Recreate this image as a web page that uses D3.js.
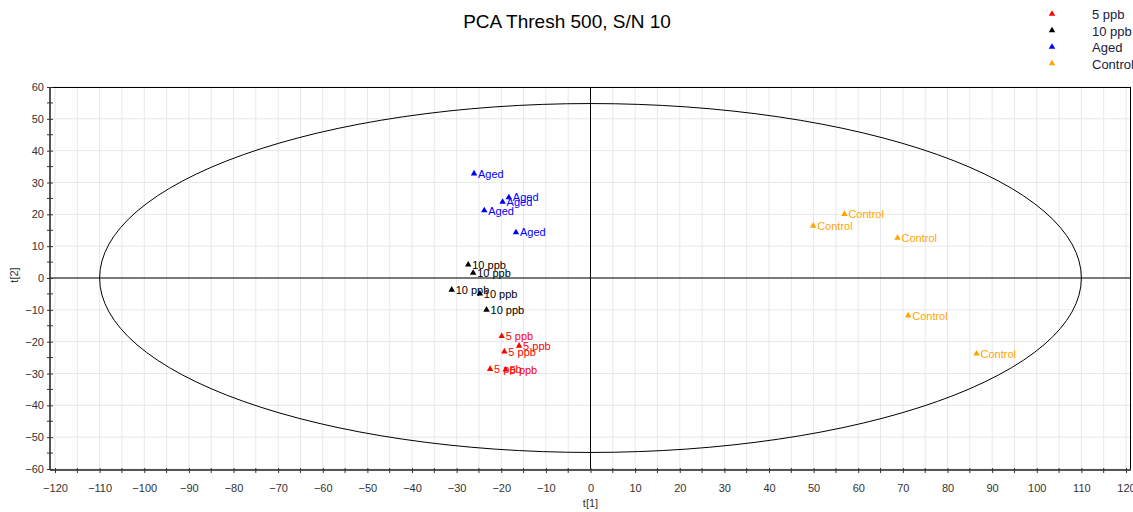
<!DOCTYPE html>
<html>
<head>
<meta charset="utf-8">
<script src="https://cdn.jsdelivr.net/npm/d3@7"></script>
<style>
  html, body { margin: 0; padding: 0; background: #fff; }
  svg { display: block; font-family: "Liberation Sans", Arial, sans-serif; }
</style>
</head>
<body>
<svg id="chart" width="1133" height="512"></svg>
<script>
// Score plot groups
const groups = ["5 ppb", "10 ppb", "Aged", "Control"];
const groupColors = ["#ff0000", "#000000", "#0000ff", "#ffa500"];

// t[1] / t[2] scores per group
const t1_5ppb   = [-19.9, -16.0, -19.3, -22.5, -19.0];
const t2_5ppb   = [-18.3, -21.3, -23.1, -28.6, -28.8];
const t1_10ppb  = [-27.4, -26.3, -31.1, -24.8, -23.3];
const t2_10ppb  = [4.2, 1.6, -3.7, -4.9, -10.0];
const t1_aged   = [-26.1, -18.3, -19.7, -23.8, -16.7];
const t2_aged   = [32.8, 25.3, 23.9, 21.2, 14.3];
const t1_control = [56.9, 49.9, 68.8, 71.2, 86.5];
const t2_control = [20.1, 16.4, 12.6, -11.8, -23.8];

// Hotelling T2 ellipse semi-axes
const ellipseT1 = 110;
const ellipseT2 = 54.8;

const xTicks = d3.range(-120, 121, 10);
const yTicks = d3.range(-60, 61, 10);

const seriesT1 = [t1_5ppb, t1_10ppb, t1_aged, t1_control];
const seriesT2 = [t2_5ppb, t2_10ppb, t2_aged, t2_control];

const svg = d3.select("#chart");
const frame = { left: 50, right: 1131, top: 87, bottom: 470 };

const x = d3.scaleLinear().domain([-120, 120]).range([55, 1126]);
const y = d3.scaleLinear().domain([-60, 60]).range([469, 87]);

// grid
const grid = svg.append("g");
grid.selectAll("line.vg").data(d3.range(-120, 121, 5)).join("line")
  .attr("x1", d => x(d)).attr("x2", d => x(d))
  .attr("y1", frame.top).attr("y2", frame.bottom)
  .attr("stroke", "#e8e8e8").attr("stroke-width", 1);
grid.selectAll("line.hg").data(yTicks).join("line")
  .attr("x1", frame.left).attr("x2", frame.right)
  .attr("y1", d => y(d)).attr("y2", d => y(d))
  .attr("stroke", "#e8e8e8").attr("stroke-width", 1);

// frame top / right
svg.append("line").attr("x1", frame.left).attr("x2", frame.right)
  .attr("y1", frame.top + 0.5).attr("y2", frame.top + 0.5).attr("stroke", "#000");
svg.append("line").attr("x1", frame.right - 0.5).attr("x2", frame.right - 0.5)
  .attr("y1", frame.top).attr("y2", frame.bottom).attr("stroke", "#000");

// zero lines
svg.append("line").attr("x1", x(0)).attr("x2", x(0))
  .attr("y1", frame.top).attr("y2", frame.bottom).attr("stroke", "#000");
svg.append("line").attr("x1", frame.left).attr("x2", frame.right)
  .attr("y1", y(0)).attr("y2", y(0)).attr("stroke", "#000");

// ellipse
svg.append("ellipse")
  .attr("cx", x(0)).attr("cy", y(0))
  .attr("rx", x(ellipseT1) - x(0)).attr("ry", y(0) - y(ellipseT2))
  .attr("fill", "none").attr("stroke", "#000").attr("stroke-width", 1);

// axes
const xAxis = svg.append("g").attr("transform", `translate(0,${frame.bottom})`)
  .call(d3.axisBottom(x).tickValues(xTicks).tickSize(4).tickSizeOuter(0).tickPadding(10));
xAxis.selectAll(".tick line").attr("y1", -2).attr("y2", 3).attr("stroke", "#333");
xAxis.append("g").selectAll("line").data(d3.range(-115, 120, 10)).join("line")
  .attr("x1", d => x(d)).attr("x2", d => x(d)).attr("y1", -2).attr("y2", 3).attr("stroke", "#333");
xAxis.select(".domain").attr("d", `M${frame.left},0H${frame.right}`).attr("stroke", "#555").attr("stroke-width", 2);

const yAxis = svg.append("g").attr("transform", `translate(${frame.left},0)`)
  .call(d3.axisLeft(y).tickValues(yTicks).tickSize(3).tickSizeOuter(0).tickPadding(3));
yAxis.selectAll(".tick line").attr("x1", -3).attr("x2", 3).attr("stroke", "#333");
yAxis.append("g").selectAll("line").data(d3.range(-55, 60, 10)).join("line")
  .attr("x1", -3).attr("x2", 3).attr("y1", d => y(d)).attr("y2", d => y(d)).attr("stroke", "#333");
yAxis.select(".domain").attr("d", `M0,${frame.top}V${frame.bottom}`).attr("stroke", "#555").attr("stroke-width", 2);

svg.selectAll(".tick text").attr("fill", "#333").attr("font-size", 11)
  .attr("font-family", "'Liberation Sans', Arial, sans-serif");

// axis titles
svg.append("text").attr("x", x(0)).attr("y", 507).attr("text-anchor", "middle")
  .attr("font-size", 11).attr("fill", "#333").text("t[1]");
svg.append("text").attr("transform", `translate(18,${y(0) - 3}) rotate(-90)`)
  .attr("text-anchor", "middle").attr("font-size", 11).attr("fill", "#333").text("t[2]");

// title
svg.append("text").attr("x", 567).attr("y", 28).attr("text-anchor", "middle")
  .attr("font-size", 19).attr("fill", "#000").text("PCA Thresh 500, S/N 10");

// points
const tri = d3.symbol().type(d3.symbolTriangle).size(18);
groups.forEach((g, gi) => {
  const pts = seriesT1[gi].map((v, i) => ({ t1: v, t2: seriesT2[gi][i] }));
  const layer = svg.append("g");
  layer.selectAll("path").data(pts).join("path")
    .attr("d", tri)
    .attr("transform", d => `translate(${x(d.t1)},${y(d.t2)})`)
    .attr("fill", groupColors[gi]);
  layer.selectAll("text").data(pts).join("text")
    .attr("x", d => x(d.t1) + 4)
    .attr("y", d => y(d.t2) + 4)
    .attr("font-size", 11)
    .attr("fill", groupColors[gi])
    .text(g);
});

// legend
const legend = svg.append("g");
groups.forEach((g, i) => {
  const ly = 14 + i * 16.5;
  legend.append("path").attr("d", tri).attr("transform", `translate(1052,${ly})`)
    .attr("fill", groupColors[i]);
  legend.append("text").attr("x", 1092).attr("y", ly + 5)
    .attr("font-size", 13).attr("fill", "#1a1a40").text(g);
});
</script>
</body>
</html>
